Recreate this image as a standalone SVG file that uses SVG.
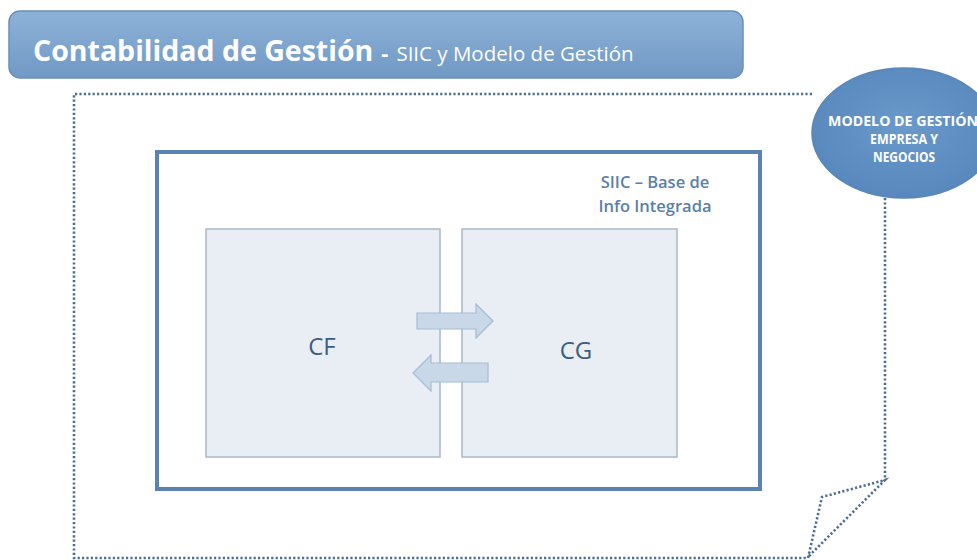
<svg xmlns="http://www.w3.org/2000/svg" width="977" height="560" viewBox="0 0 977 560">
  <style>
    .title { font-family: "Open Sans", "Liberation Sans", sans-serif; fill: #ffffff; }
    .main { font-size: 28.5px; font-weight: bold; }
    .dash { font-size: 22px; font-weight: bold; }
    .sub { font-size: 20.5px; font-weight: normal; }
    .dotted { fill: none; stroke: #4d6d92; stroke-width: 2.6; stroke-dasharray: 2.2 2.2; }
    .box { fill: #e9eef4; stroke: #a9b8c9; stroke-width: 1.5; }
    .arrow { fill: #c9d8e8; stroke: #a6bcd3; stroke-width: 1.2; }
    .boxlabel { font-family: "Open Sans", "Liberation Sans", sans-serif; font-size: 24px; fill: #3d5c82; text-anchor: middle; }
    .siic { font-family: "Open Sans", "Liberation Sans", sans-serif; font-size: 16.5px; font-weight: 600; fill: #5a7fa8; text-anchor: middle; }
    .oval { font-family: "Open Sans", "Liberation Sans", sans-serif; font-size: 13.5px; font-weight: bold; fill: #ffffff; text-anchor: middle; }
  </style>
  <defs>
    <linearGradient id="titleFill" x1="0" y1="0" x2="0" y2="1">
      <stop offset="0" stop-color="#8db2d8"/>
      <stop offset="1" stop-color="#7199c4"/>
    </linearGradient>
    <radialGradient id="ovalFill" cx="0.5" cy="0.45" r="0.6">
      <stop offset="0" stop-color="#6a9acb"/>
      <stop offset="1" stop-color="#5686bb"/>
    </radialGradient>
  </defs>

  <rect width="977" height="560" fill="#ffffff"/>

  <!-- heading bar -->
  <g id="heading">
    <rect x="9" y="11" width="734" height="67" rx="11" fill="url(#titleFill)" stroke="#6a8fb9" stroke-width="1.5"/>
    <text class="title" x="33" y="61"><tspan class="main">Contabilidad de Gestión</tspan><tspan class="dash" dx="8">-</tspan><tspan class="sub" dx="8">SIIC y Modelo de Gestión</tspan></text>
  </g>

  <!-- dotted outer frame with folded corner -->
  <g id="frame">
    <path class="dotted" d="M 812 94 H 74 V 558 H 808 L 822 497 L 885 480 L 808 557 M 885 198 V 480"/>
  </g>

  <!-- business model oval -->
  <g id="modelo">
    <ellipse cx="904" cy="133" rx="92" ry="65" fill="url(#ovalFill)" stroke="#5a86b6" stroke-width="1.5"/>
    <text class="oval" x="903" y="126" textLength="150" lengthAdjust="spacingAndGlyphs">MODELO DE GESTIÓN</text>
    <text class="oval" x="904" y="144" textLength="68" lengthAdjust="spacingAndGlyphs">EMPRESA Y</text>
    <text class="oval" x="904" y="162" textLength="62" lengthAdjust="spacingAndGlyphs">NEGOCIOS</text>
  </g>

  <!-- integrated information base -->
  <g id="siic">
    <rect x="157" y="152" width="603" height="337" fill="#ffffff" stroke="#5b83b1" stroke-width="4"/>
    <text class="siic" x="655" y="188">SIIC – Base de</text>
    <text class="siic" x="655" y="212">Info Integrada</text>
  </g>

  <g id="cf">
    <rect class="box" x="206" y="229" width="234" height="228"/>
    <text class="boxlabel" x="322" y="355">CF</text>
  </g>

  <g id="cg">
    <rect class="box" x="462" y="229" width="215" height="228"/>
    <text class="boxlabel" x="576" y="359">CG</text>
  </g>

  <!-- flows between CF and CG -->
  <g id="connectors">
    <path class="arrow" d="M 417 313 H 476 V 304 L 493 321 L 476 338 V 329 H 417 Z"/>
    <path class="arrow" d="M 488 363 H 431 V 355 L 413 373 L 431 391 V 382 H 488 Z"/>
  </g>
</svg>
